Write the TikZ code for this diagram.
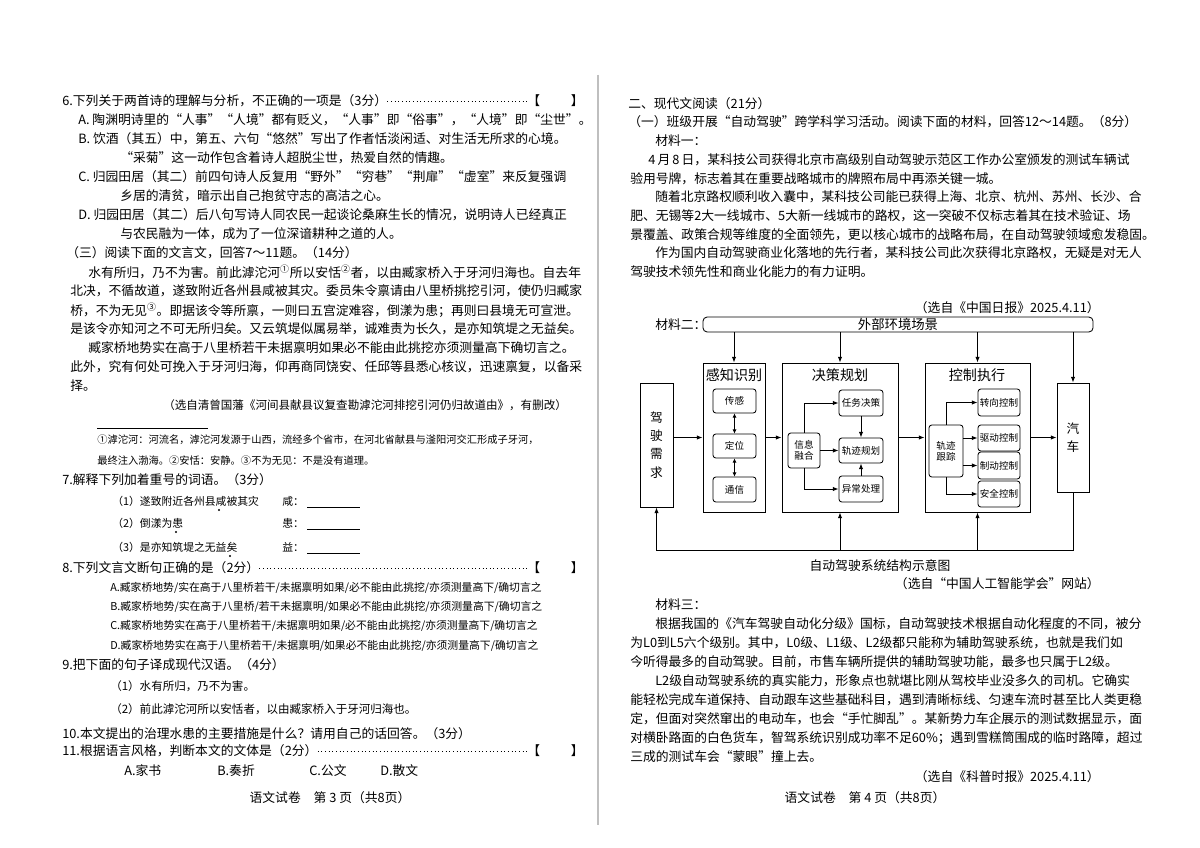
\documentclass[tikz,border=0pt]{standalone}
\usepackage{fontspec}
\setmainfont{Noto Sans CJK SC}
\usetikzlibrary{arrows.meta}
\def\px{0.7113pt}
\tikzset{
  txt/.style={anchor=west, inner sep=0pt, font=\fontsize{9.1}{10}\selectfont},
  txts/.style={txt, font=\fontsize{8.2}{10}\selectfont},
  txtf/.style={txt, font=\fontsize{7.3}{9}\selectfont},
  txto/.style={txt, font=\fontsize{7.7}{9}\selectfont},
  src/.style={txt, anchor=east},
  leader/.style={dotted, line width=0.6pt},
  box/.style={draw, line width=0.6pt, inner sep=0pt},
  inbox/.style={draw, rounded corners=2pt, line width=0.6pt, font=\fontsize{6.8}{8}\selectfont, inner sep=0pt},
  ttl/.style={font=\fontsize{10}{11}\selectfont, inner sep=0pt},
  arr/.style={-{Latex[length=4pt,width=3pt]}, line width=0.6pt},
  dbl/.style={{Latex[length=3pt,width=3pt]}-{Latex[length=3pt,width=3pt]}, line width=0.6pt},
  wh/.style n args={2}{minimum width=#1*\px, minimum height=#2*\px}
}
\begin{document}
\begin{tikzpicture}[x=0.025cm,y=-0.025cm]
\useasboundingbox[fill=white] (0,0) rectangle (1200,847);
\draw[gray!50, line width=0.8pt] (598,75) -- (598,825);
% left page
\node[txt] (q6) at (62,101) {6.下列关于两首诗的理解与分析，不正确的一项是（3分）};
\node[txt] (b6) at (527,101) {【\hspace{2.4em}】};
\draw[leader] (q6.east) -- (b6.west);
\node[txt] (l1) at (78,120) {A. 陶渊明诗里的“人事”“人境”都有贬义，“人事”即“俗事”，“人境”即“尘世”。};
\node[txt] (l2) at (78,139) {B. 饮酒（其五）中，第五、六句“悠然”写出了作者恬淡闲适、对生活无所求的心境。};
\node[txt] (l3) at (120,158) {“采菊”这一动作包含着诗人超脱尘世，热爱自然的情趣。};
\node[txt] (l4) at (78,177) {C. 归园田居（其二）前四句诗人反复用“野外”“穷巷”“荆扉”“虚室”来反复强调};
\node[txt] (l5) at (120,196) {乡居的清贫，暗示出自己抱贫守志的高洁之心。};
\node[txt] (l6) at (78,215) {D. 归园田居（其二）后八句写诗人同农民一起谈论桑麻生长的情况，说明诗人已经真正};
\node[txt] (l7) at (120,234) {与农民融为一体，成为了一位深谙耕种之道的人。};
\node[txt] (l8) at (66,253) {（三）阅读下面的文言文，回答7～11题。（14分）};
\node[txt] (l9) at (88,272) {水有所归，乃不为害。前此滹沱河\textsuperscript{①}所以安恬\textsuperscript{②}者，以由臧家桥入于牙河归海也。自去年};
\node[txt] (l10) at (70,291) {北决，不循故道，遂致附近各州县咸被其灾。委员朱令禀请由八里桥挑挖引河，使仍归臧家};
\node[txt] (l11) at (70,310) {桥，不为无见\textsuperscript{③}。即据该令等所禀，一则曰五宫淀难容，倒漾为患；再则曰县境无可宣泄。};
\node[txt] (l12) at (70,329) {是该令亦知河之不可无所归矣。又云筑堤似属易举，诚难责为长久，是亦知筑堤之无益矣。};
\node[txt] (l13) at (88,348) {臧家桥地势实在高于八里桥若干未据禀明如果必不能由此挑挖亦须测量高下确切言之。};
\node[txt] (l14) at (70,367) {此外，究有何处可挽入于牙河归海，仰再商同饶安、任邱等县悉心核议，迅速禀复，以备采};
\node[txt] (l15) at (70,386) {择。};
\node[txts] (l16) at (163,405) {（选自清曾国藩《河间县献县议复查勘滹沱河排挖引河仍归故道由》，有删改）};
\draw[line width=0.6pt] (97,428) -- (208,428);
\node[txtf] (l17) at (97,440) {①滹沱河：河流名，滹沱河发源于山西，流经多个省市，在河北省献县与滏阳河交汇形成子牙河，};
\node[txtf] (l18) at (97,461) {最终注入渤海。②安恬：安静。③不为无见：不是没有道理。};
\node[txt] (q7) at (62,480) {7.解释下列加着重号的词语。（3分）};
\node[txto] (q71) at (112,501) {（1）遂致附近各州县咸被其灾};
\node[txto] (a71) at (282,501) {咸：};
\node[txto] (q72) at (112,523) {（2）倒漾为患};
\node[txto] (a72) at (282,523) {患：};
\node[txto] (q73) at (112,547) {（3）是亦知筑堤之无益矣};
\node[txto] (a73) at (282,547) {益：};
\foreach \y in {507,529,553} \draw[line width=0.6pt] (307,\y) -- (360,\y);
\fill (219,510) circle (1.1) (176,532) circle (1.1) (230,556) circle (1.1);
\node[txt] (q8) at (62,568) {8.下列文言文断句正确的是（2分）};
\node[txt] (b8) at (527,568) {【\hspace{2.4em}】};
\draw[leader] (q8.east) -- (b8.west);
\node[txto] (o8a) at (110,588) {A.臧家桥地势/实在高于八里桥若干/未据禀明如果/必不能由此挑挖/亦须测量高下/确切言之};
\node[txto] (o8b) at (110,607) {B.臧家桥地势/实在高于八里桥/若干未据禀明/如果必不能由此挑挖/亦须测量高下/确切言之};
\node[txto] (o8c) at (110,626) {C.臧家桥地势实在高于八里桥若干/未据禀明如果/必不能由此挑挖/亦须测量高下/确切言之};
\node[txto] (o8d) at (110,646) {D.臧家桥地势实在高于八里桥若干/未据禀明/如果必不能由此挑挖/亦须测量高下/确切言之};
\node[txt] (q9) at (62,665) {9.把下面的句子译成现代汉语。（4分）};
\node[txts] (q91) at (110,686) {（1）水有所归，乃不为害。};
\node[txts] (q92) at (110,709) {（2）前此滹沱河所以安恬者，以由臧家桥入于牙河归海也。};
\node[txt] (q10) at (62,734) {10.本文提出的治理水患的主要措施是什么？请用自己的话回答。（3分）};
\node[txt] (q11) at (62,751) {11.根据语言风格，判断本文的文体是（2分）};
\node[txt] (b11) at (527,751) {【\hspace{2.4em}】};
\draw[leader] (q11.east) -- (b11.west);
\node[txt] (o11a) at (124,771) {A.家书};
\node[txt] (o11b) at (217,771) {B.奏折};
\node[txt] (o11c) at (309,771) {C.公文};
\node[txt] (o11d) at (380,771) {D.散文};
\node[txt, anchor=center] (f3) at (330,798) {语文试卷\quad 第 3 页（共8页）};
% right page
\node[txt] (r1) at (628,104) {二、现代文阅读（21分）};
\node[txt] (r2) at (628,122) {（一）班级开展“自动驾驶”跨学科学习活动。阅读下面的材料，回答12～14题。（8分）};
\node[txt] (r3) at (655,141) {材料一：};
\node[txt] (r4) at (648,160) {4\,月\,8\,日，某科技公司获得北京市高级别自动驾驶示范区工作办公室颁发的测试车辆试};
\node[txt] (r5) at (630,179) {验用号牌，标志着其在重要战略城市的牌照布局中再添关键一城。};
\node[txt] (r6) at (655,197) {随着北京路权顺利收入囊中，某科技公司能已获得上海、北京、杭州、苏州、长沙、合};
\node[txt] (r7) at (630,216) {肥、无锡等2大一线城市、5大新一线城市的路权，这一突破不仅标志着其在技术验证、场};
\node[txt] (r8) at (630,235) {景覆盖、政策合规等维度的全面领先，更以核心城市的战略布局，在自动驾驶领域愈发稳固。};
\node[txt] (r9) at (655,253) {作为国内自动驾驶商业化落地的先行者，某科技公司此次获得北京路权，无疑是对无人};
\node[txt] (r10) at (630,272) {驾驶技术领先性和商业化能力的有力证明。};
\node[src] (s1) at (1100,308) {（选自《中国日报》2025.4.11）};
\node[txt] (r11) at (655,325) {材料二：};
% diagram
\node[draw, rounded corners=3pt, line width=0.6pt, wh={390}{15}, inner sep=0pt, font=\fontsize{9.5}{10}\selectfont] (env) at (898,324.5) {外部环境场景};
\node[box, wh={33}{124}, align=center, font=\fontsize{9}{13}\selectfont] (need) at (656.5,445) {驾\\驶\\需\\求};
\node[box, wh={62}{149}] (perc) at (734,437.5) {};
\node[box, wh={116}{149}] (dec) at (840,437.5) {};
\node[box, wh={105}{149}] (ctl) at (977.5,437.5) {};
\node[box, wh={32}{109}, align=center, font=\fontsize{9}{13}\selectfont] (car) at (1073,437.5) {汽\\车};
\node[ttl] (tp) at (734,375) {感知识别};
\node[ttl] (td) at (840,375) {决策规划};
\node[ttl] (tc) at (977,375) {控制执行};
\node[inbox, wh={43}{24}] (sens) at (734.5,401) {传感};
\node[inbox, wh={43}{24}] (loc) at (734.5,446) {定位};
\node[inbox, wh={43}{25}] (com) at (734.5,489.5) {通信};
\node[inbox, wh={32}{35}, align=center] (fuse) at (804,450.5) {信息\\融合};
\node[inbox, wh={44}{26}] (task) at (861,403) {任务决策};
\node[inbox, wh={44}{25}] (traj) at (861,450.5) {轨迹规划};
\node[inbox, wh={44}{26}] (exc) at (861,489) {异常处理};
\node[inbox, wh={34}{52}, align=center] (track) at (946,451) {轨迹\\跟踪};
\node[inbox, wh={42}{27}] (steer) at (999,402.5) {转向控制};
\node[inbox, wh={42}{26}] (drive) at (999,438) {驱动控制};
\node[inbox, wh={42}{27}] (brake) at (999,465.5) {制动控制};
\node[inbox, wh={42}{26}] (safe) at (999,494) {安全控制};
\foreach \n in {perc,dec,ctl,car} \draw[arr] (env.south -| \n.north) -- (\n.north);
\draw[arr] (need.east |- perc.west) -- (perc.west);
\draw[arr] (perc.east) -- (dec.west);
\draw[arr] (dec.east) -- (ctl.west);
\draw[arr] (ctl.east) -- (car.west);
\draw[dbl] (sens.south) -- (loc.north);
\draw[dbl] (loc.south) -- (com.north);
\draw[arr] (fuse.north) |- (task.west);
\draw[arr] (fuse.east) -- (traj.west);
\draw[arr] (fuse.south) |- (exc.west);
\draw[arr] (task.south) -- (traj.north);
\draw[arr] (exc.north) -- (traj.south);
\draw[arr] (track.north) |- (steer.west);
\draw[arr] (track.east |- drive.west) -- (drive.west);
\draw[arr] (track.east |- brake.west) -- (brake.west);
\draw[arr] (track.south) |- (safe.west);
\coordinate (fb) at (1073,550);
\draw[arr] (car.south) -- (fb) -| (need.south);
\draw[arr] (fb -| dec.south) -- (dec.south);
\draw[arr] (fb -| ctl.south) -- (ctl.south);
\node[txt, anchor=center] (cap) at (880,566) {自动驾驶系统结构示意图};
\node[src] (s2) at (1100,584) {（选自“中国人工智能学会”网站）};
\node[txt] (r12) at (655,605) {材料三：};
\node[txt] (r13) at (655,624) {根据我国的《汽车驾驶自动化分级》国标，自动驾驶技术根据自动化程度的不同，被分};
\node[txt] (r14) at (630,643) {为L0到L5六个级别。其中，L0级、L1级、L2级都只能称为辅助驾驶系统，也就是我们如};
\node[txt] (r15) at (630,662) {今听得最多的自动驾驶。目前，市售车辆所提供的辅助驾驶功能，最多也只属于L2级。};
\node[txt] (r16) at (655,681) {L2级自动驾驶系统的真实能力，形象点也就堪比刚从驾校毕业没多久的司机。它确实};
\node[txt] (r17) at (630,700) {能轻松完成车道保持、自动跟车这些基础科目，遇到清晰标线、匀速车流时甚至比人类更稳};
\node[txt] (r18) at (630,719) {定，但面对突然窜出的电动车，也会“手忙脚乱”。某新势力车企展示的测试数据显示，面};
\node[txt] (r19) at (630,738) {对横卧路面的白色货车，智驾系统识别成功率不足60\%；遇到雪糕筒围成的临时路障，超过};
\node[txt] (r20) at (630,757) {三成的测试车会“蒙眼”撞上去。};
\node[src] (s3) at (1100,777) {（选自《科普时报》2025.4.11）};
\node[txt, anchor=center] (f4) at (865,798) {语文试卷\quad 第 4 页（共8页）};
\end{tikzpicture}
\end{document}
